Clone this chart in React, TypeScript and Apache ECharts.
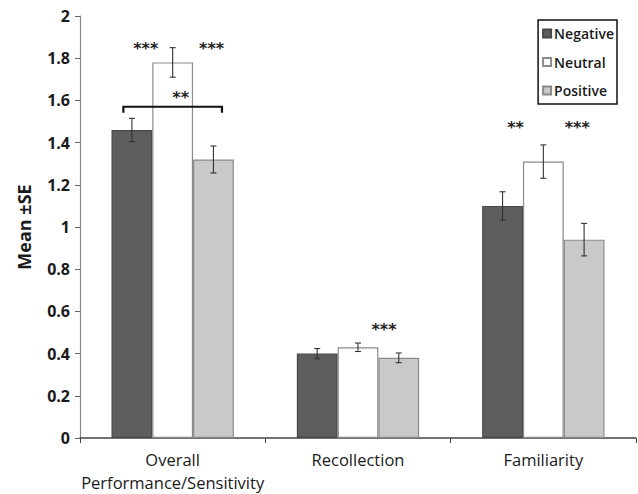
import React, { useEffect, useRef } from "react";
import * as echarts from "echarts";

const categories = ["Overall\nPerformance/Sensitivity", "Recollection", "Familiarity"];
const seriesNames = ["Negative", "Neutral", "Positive"];
const negativeMeans = [1.46, 0.40, 1.10];
const neutralMeans = [1.78, 0.43, 1.31];
const positiveMeans = [1.32, 0.38, 0.94];
const negativeSE = [0.055, 0.024, 0.067];
const neutralSE = [0.07, 0.02, 0.079];
const positiveSE = [0.064, 0.023, 0.077];
const yTicks = { min: 0, max: 2, interval: 0.2 };
// annotations: [categoryIndex, offset within band (fraction), value, text]
const annoCat = [0, 0, 0, 1, 2, 2];
const annoOffset = [-0.145, 0.21, 0.043, 0.14, -0.15, 0.183];
const annoValue = [1.86, 1.86, 1.63, 0.53, 1.485, 1.485];
const annoText = ["***", "***", "**", "***", "**", "***"];
// bracket over Overall: [category, left offset, right offset, value, drop]
const bracket = [0, -0.266, 0.266, 1.57, 0.028];

const FONT = "Open Sans";

export default function App() {
  const ref = useRef<HTMLDivElement>(null);
  useEffect(() => {
    if (!ref.current) return;
    const chart = echarts.init(ref.current, null, { renderer: "svg" });
    const means = [negativeMeans, neutralMeans, positiveMeans];
    const ses = [negativeSE, neutralSE, positiveSE];
    const colors = ["#5e5e5e", "#ffffff", "#c9c9c9"];
    const borders = ["#474747", "#8a8a8a", "#8a8a8a"];
    const errData: number[][] = [];
    means.forEach((arr, s) =>
      arr.forEach((v, c) => errData.push([c, s, v, ses[s][c]]))
    );
    const barSeries = seriesNames.map((name, i) => ({
      name,
      type: "bar",
      data: means[i],
      barGap: "0%",
      barCategoryGap: "34%",
      itemStyle: { color: colors[i], borderColor: borders[i], borderWidth: 1.2 },
      z: 2,
    }));
    chart.setOption({
      animation: false,
      textStyle: { fontFamily: FONT },
      grid: { left: 80, right: 2, top: 16, bottom: 55 },
      legend: {
        orient: "vertical",
        right: 21,
        top: 20,
        data: seriesNames,
        icon: "rect",
        itemWidth: 8,
        itemHeight: 8,
        itemGap: 14.5,
        borderColor: "#111",
        borderWidth: 1.5,
        padding: [6.5, 3, 6.5, 4],
        textStyle: { fontFamily: FONT, fontSize: 14, fontWeight: 600, color: "#1a1a1a", padding: [0, 0, 0, -2] },
      },
      xAxis: {
        type: "category",
        data: categories,
        axisLine: { lineStyle: { color: "#444", width: 1.5 } },
        axisTick: { show: true, length: 5, lineStyle: { color: "#444" } },
        axisLabel: {
          fontFamily: FONT,
          fontSize: 16.5,
          color: "#1a1a1a",
          margin: 10,
          lineHeight: 23,
          interval: 0,
        },
      },
      yAxis: {
        type: "value",
        min: yTicks.min,
        max: yTicks.max,
        interval: yTicks.interval,
        name: "Mean ±SE",
        nameLocation: "middle",
        nameGap: 47,
        nameTextStyle: { fontFamily: FONT, fontSize: 18, fontWeight: "bold", color: "#1a1a1a" },
        axisLine: { show: true, lineStyle: { color: "#888", width: 1.2 } },
        axisTick: { show: true, length: 5, lineStyle: { color: "#666" } },
        axisLabel: { fontFamily: FONT, fontSize: 16, fontWeight: "bold", color: "#1a1a1a", margin: 10 },
        splitLine: { show: false },
      },
      series: [
        ...barSeries,
        {
          type: "custom",
          name: "err",
          data: errData,
          encode: { x: 0, y: 2 },
          z: 5,
          renderItem: (params: any, api: any) => {
            const c = api.value(0);
            const s = api.value(1);
            const v = api.value(2);
            const e = api.value(3);
            const band = api.size([1, 0])[0];
            const base = api.coord([c, v]);
            const x = base[0] + (s - 1) * band * 0.22;
            const yt = api.coord([c, v + e])[1];
            const yb = api.coord([c, v - e])[1];
            const st = { stroke: "#333", lineWidth: 1.1 };
            return {
              type: "group",
              children: [
                { type: "line", shape: { x1: x, y1: yt, x2: x, y2: yb }, style: st },
                { type: "line", shape: { x1: x - 3, y1: yt, x2: x + 3, y2: yt }, style: st },
                { type: "line", shape: { x1: x - 3, y1: yb, x2: x + 3, y2: yb }, style: st },
              ],
            };
          },
        },
        {
          type: "custom",
          name: "stars",
          data: annoCat.map((c, i) => [c, annoValue[i]]),
          encode: { x: 0, y: 1 },
          z: 6,
          renderItem: (params: any, api: any) => {
            const i = params.dataIndex;
            const band = api.size([1, 0])[0];
            const p = api.coord([api.value(0), api.value(1)]);
            return {
              type: "text",
              style: {
                x: p[0] + annoOffset[i] * band,
                y: p[1] + 3,
                text: annoText[i],
                align: "center",
                verticalAlign: "middle",
                fontFamily: "DejaVu Sans",
                fontSize: 16,
                fontWeight: "bold",
                fill: "#222",
              },
            };
          },
        },
        {
          type: "custom",
          name: "bracket",
          data: [[bracket[0], bracket[3]]],
          encode: { x: 0, y: 1 },
          z: 6,
          renderItem: (params: any, api: any) => {
            const band = api.size([1, 0])[0];
            const p = api.coord([api.value(0), api.value(1)]);
            const yd = api.coord([api.value(0), bracket[3] - bracket[4]])[1];
            const xl = p[0] + bracket[1] * band;
            const xr = p[0] + bracket[2] * band;
            return {
              type: "polyline",
              shape: { points: [[xl, yd], [xl, p[1]], [xr, p[1]], [xr, yd]] },
              style: { stroke: "#111", lineWidth: 2.2, fill: null },
            };
          },
        },
      ],
    });
    return () => chart.dispose();
  }, []);
  return <div ref={ref} style={{ width: 638, height: 494, position: "absolute", left: 0, top: 0 }} />;
}
